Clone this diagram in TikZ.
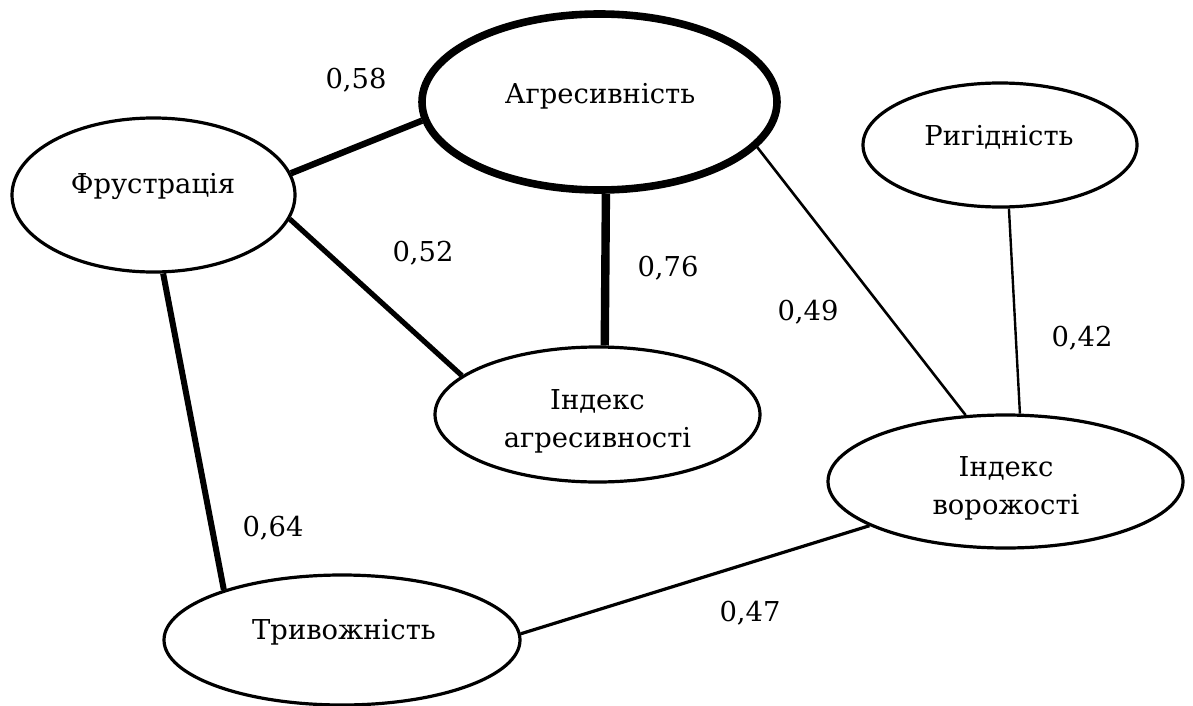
\documentclass[tikz,border=0pt]{standalone}
\usepackage{fontspec}
\newfontfamily\tnrfont{DejaVu Serif}[Script=Cyrillic, Scale=0.83]
\usetikzlibrary{shapes.geometric}
\tikzset{
  oval/.style={ellipse, draw, line width=1.6pt, inner sep=0pt},
  txt/.style={font=\tnrfont\fontsize{16.5}{19}\selectfont, inner sep=0pt, align=center},
  link/.style={draw, line cap=butt},
}
\begin{document}
\begin{tikzpicture}[x=0.5pt,y=-0.5pt]
\useasboundingbox (0,0) rectangle (1193,706);
% ellipses
\node[oval, line width=3.8pt, minimum width=177.5pt, minimum height=88pt] (agr) at (599.5,102) {};
\node[oval, minimum width=141.5pt, minimum height=77pt] (frus) at (153.5,195) {};
\node[oval, minimum width=137pt, minimum height=62pt] (rig) at (1000,145) {};
\node[oval, minimum width=162.5pt, minimum height=67.5pt] (ia) at (597.5,414.5) {};
\node[oval, minimum width=177.5pt, minimum height=66.5pt] (iv) at (1005.5,481.5) {};
\node[oval, minimum width=178pt, minimum height=65pt] (tr) at (342,640) {};
% texts
\node[txt] (agrT) at (600,96) {Агресивність};
\node[txt] (frusT) at (153,186) {Фрустрація};
\node[txt] (rigT) at (999,137) {Ригідність};
\node[txt] (iaT) at (597.5,421.5) {Індекс\\агресивності};
\node[txt] (ivT) at (1006,488.5) {Індекс\\ворожості};
\node[txt] (trT) at (344,632) {Тривожність};
% connectors
\draw[link, line width=3.2pt] (frus.9) -- (agr.186);
\draw[link, line width=2.6pt] (frus.350) -- (ia.164);
\draw[link, line width=4.2pt] (agr.274) -- (ia.84);
\draw[link, line width=1.3pt] (agr.344) -- (iv.121);
\draw[link, line width=1.2pt] (rig.278) -- (iv.78);
\draw[link, line width=3pt] (frus.277) -- (tr.157);
\draw[link, line width=1.6pt] (tr.2) -- (iv.198);
% coefficients
\node[txt] (c58) at (356,80) {0,58};
\node[txt] (c52) at (423,253) {0,52};
\node[txt] (c76) at (668,268) {0,76};
\node[txt] (c49) at (808,312) {0,49};
\node[txt] (c42) at (1082,338) {0,42};
\node[txt] (c64) at (273,528) {0,64};
\node[txt] (c47) at (750,613) {0,47};
\end{tikzpicture}
\end{document}
